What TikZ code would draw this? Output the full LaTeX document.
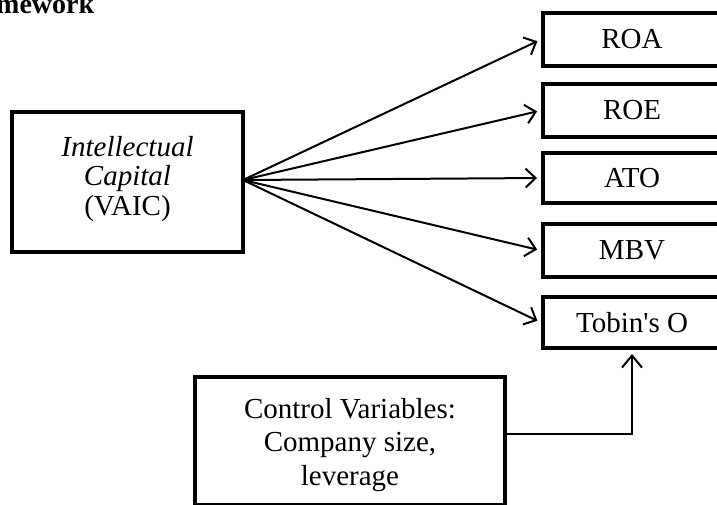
\documentclass[tikz,border=0pt]{standalone}
\usepackage{fontspec}
\setmainfont{Liberation Serif}
\usetikzlibrary{arrows.meta}
\tikzset{
  box/.style={draw, line width=4pt, inner sep=0pt, align=center, font=\fontsize{29}{30}\selectfont},
  rbox/.style={box, minimum width=178pt},
  txt/.style={inner sep=0pt, align=center, anchor=base},
  fan/.style={line width=2pt, -{Straight Barb[length=10pt,width=19pt,line width=2pt]}, shorten >=4pt},
  ctl/.style={line width=1.4pt, -{Straight Barb[length=12pt,width=20pt,line width=2pt]}, shorten >=4pt}
}
\begin{document}
\begin{tikzpicture}[x=1pt,y=-1pt]
\useasboundingbox (0,0) rectangle (717,504);
\clip (0,0) rectangle (717,504);
\fill[white] (0,0) rectangle (717,504);
\node[anchor=base west, inner sep=0pt, font=\fontsize{28}{30}\selectfont\bfseries] (title) at (-4,13) {mework};
\node[box, minimum width=231pt, minimum height=140pt] (ic) at (127.5,182) {};
\node[txt, font=\fontsize{29}{29.5}\selectfont] (ictext) at (127.5,215) {\textit{Intellectual}\\\textit{Capital}\\(VAIC)};
\node[rbox, minimum height=53pt] (roa) at (632,39.5) {ROA};
\node[rbox, minimum height=53pt] (roe) at (632,110.5) {ROE};
\node[rbox, minimum height=50pt] (ato) at (632,178) {ATO};
\node[rbox, minimum height=53pt] (mbv) at (632,250.5) {MBV};
\node[rbox, minimum height=51pt] (tob) at (632,322.5) {Tobin\textquotesingle s O};
\node[box, minimum width=310pt, minimum height=128pt] (ctrl) at (350,441) {};
\node[txt, font=\fontsize{29}{33.5}\selectfont] (ctrltext) at (350,485) {Control Variables:\\Company size,\\leverage};
\coordinate (o) at (243,180);
\draw[fan] (o) -- (roa.west);
\draw[fan] (o) -- (roe.west);
\draw[fan] (o) -- (ato.west);
\draw[fan] (o) -- (mbv.west);
\draw[fan] (o) -- (tob.west);
\draw[ctl] ([yshift=7pt]ctrl.east) -| (tob.south);
\end{tikzpicture}
\end{document}
